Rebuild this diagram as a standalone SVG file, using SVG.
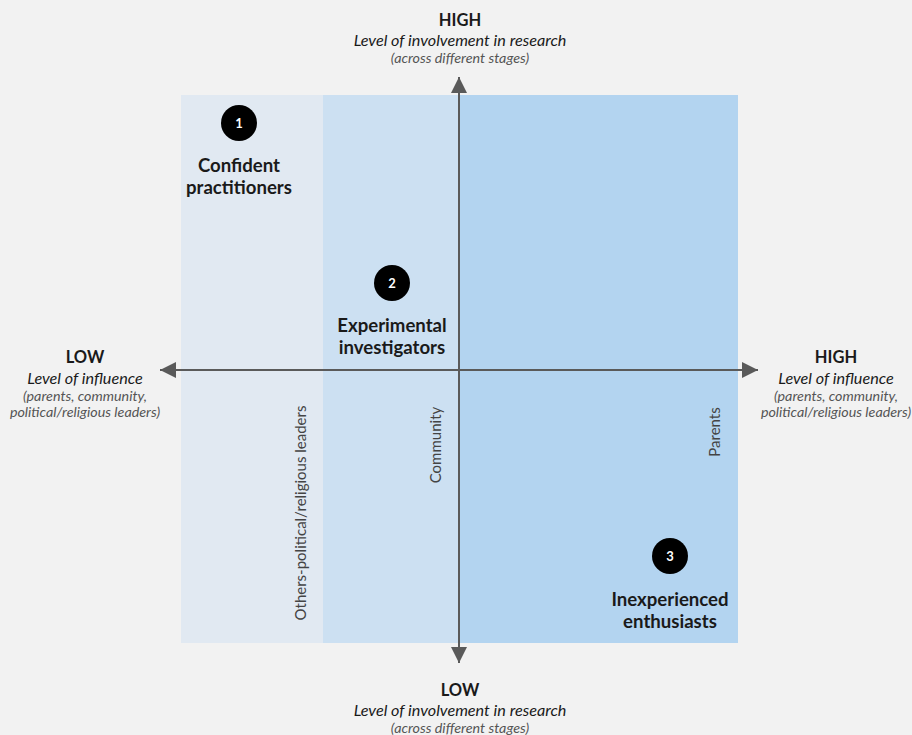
<svg xmlns="http://www.w3.org/2000/svg" width="912" height="735" viewBox="0 0 912 735">
<defs>
<marker id="ah" viewBox="0 0 10 10" refX="10" refY="5" markerWidth="16" markerHeight="16" markerUnits="userSpaceOnUse" orient="auto">
<path d="M0,0 L10,5 L0,10 Z" fill="#5a5a5a"/>
</marker>
<style>
text{font-family:Lato,"Open Sans","Liberation Sans",sans-serif;fill:#1a1a1a;text-anchor:middle}
.h{font-weight:bold;font-size:16.5px}
.l{font-style:italic;font-size:16.2px}
.s{font-style:italic;font-size:14.3px;fill:#555}
.n{font-weight:bold;font-size:18.6px}
.c{font-weight:bold;font-size:13px;fill:#fff}
.v{font-size:15px;fill:#444}
.ax{stroke:#5a5a5a;stroke-width:2;fill:none}
</style>
</defs>
<rect width="912" height="735" fill="#f2f2f2"/>
<g id="regions">
<rect x="181" y="95" width="142" height="548" fill="#e1e9f2"/>
<rect x="323" y="95" width="136" height="548" fill="#cce0f2"/>
<rect x="459" y="95" width="279" height="548" fill="#b3d4f0"/>
</g>
<g id="connectors">
<line class="ax" x1="459" y1="645" x2="459" y2="77" marker-end="url(#ah)"/>
<line class="ax" x1="459" y1="100" x2="459" y2="663" marker-end="url(#ah)"/>
<line class="ax" x1="459" y1="370" x2="160" y2="370" marker-end="url(#ah)"/>
<line class="ax" x1="459" y1="370" x2="758" y2="370" marker-end="url(#ah)"/>
</g>
<g id="top-label">
<text class="h" x="460" y="26">HIGH</text>
<text class="l" x="460" y="46">Level of involvement in research</text>
<text class="s" x="460" y="63">(across different stages)</text>
</g>
<g id="bottom-label">
<text class="h" x="460" y="696">LOW</text>
<text class="l" x="460" y="716">Level of involvement in research</text>
<text class="s" x="460" y="733">(across different stages)</text>
</g>
<g id="left-label">
<text class="h" x="85" y="363">LOW</text>
<text class="l" x="85" y="384">Level of influence</text>
<text class="s" x="85" y="401">(parents, community,</text>
<text class="s" x="85" y="417">political/religious leaders)</text>
</g>
<g id="right-label">
<text class="h" x="836" y="363">HIGH</text>
<text class="l" x="836" y="384">Level of influence</text>
<text class="s" x="836" y="401">(parents, community,</text>
<text class="s" x="836" y="417">political/religious leaders)</text>
</g>
<g id="node1">
<circle cx="239" cy="123" r="18" fill="#000"/>
<text class="c" x="239" y="128">1</text>
<text class="n" x="239" y="172">Confident</text>
<text class="n" x="239" y="194">practitioners</text>
</g>
<g id="node2">
<circle cx="392" cy="283" r="18" fill="#000"/>
<text class="c" x="392" y="288">2</text>
<text class="n" x="392" y="332">Experimental</text>
<text class="n" x="392" y="354">investigators</text>
</g>
<g id="node3">
<circle cx="670" cy="556" r="18" fill="#000"/>
<text class="c" x="670" y="561">3</text>
<text class="n" x="670" y="606">Inexperienced</text>
<text class="n" x="670" y="628">enthusiasts</text>
</g>
<g id="vlabels">
<text class="v" transform="translate(306,513) rotate(-90)">Others-political/religious leaders</text>
<text class="v" transform="translate(441,445) rotate(-90)">Community</text>
<text class="v" transform="translate(720,432) rotate(-90)">Parents</text>
</g>
</svg>
